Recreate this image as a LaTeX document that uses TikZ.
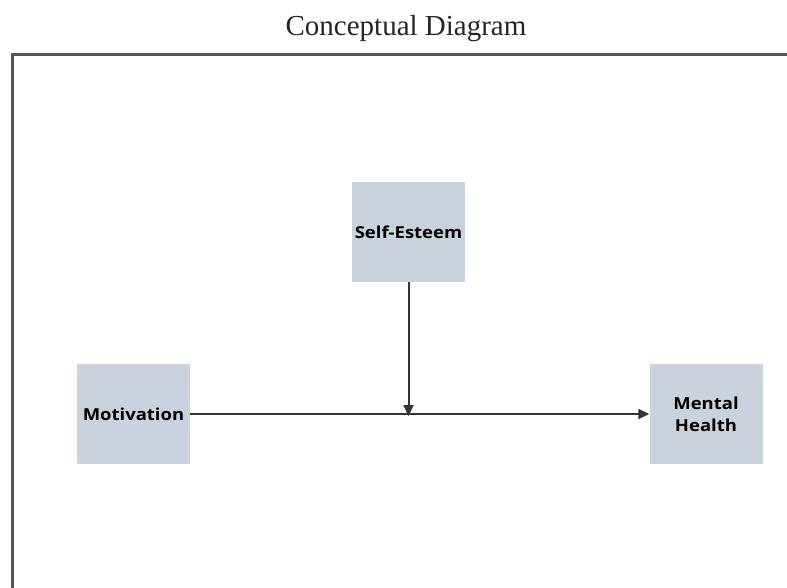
\documentclass[tikz,border=0pt]{standalone}
\usepackage{fontspec}
\setmainfont{Liberation Serif}
\newfontfamily\boxfont[FakeStretch=1.12]{Open Sans}
\usetikzlibrary{arrows.meta}
\definecolor{boxfill}{HTML}{C9D2DD}
\definecolor{framecol}{HTML}{555555}
\definecolor{arrowcol}{HTML}{333333}
\begin{document}
\begin{tikzpicture}[x=1pt,y=-1pt,
  varbox/.style={fill=boxfill,draw=none,minimum width=113pt,minimum height=100pt,inner sep=0pt,
    font=\boxfont\bfseries\fontsize{16.5}{22}\selectfont,align=center,text=black},
  conn/.style={draw=arrowcol,line width=2pt,-{Triangle[length=11pt,width=10pt]}}]
\useasboundingbox[fill=white] (0,0) rectangle (787,587);
\node[font=\fontsize{29}{34}\selectfont,text=black!85] (title) at (406,29) {Conceptual Diagram};
\draw[framecol,line width=2.2pt] (12.5,588) -- (12.5,54.5) -- (788,54.5);
\node[varbox] (se) at (408.5,232) {Self-Esteem};
\node[varbox] (mot) at (133.5,414) {Motivation};
\node[varbox] (mh) at (706,414) {Mental\\Health};
\coordinate (mid) at (408.5,414);
\draw[conn] (mot.east) -- (mh.west);
\draw[conn] (se.south) -- ([yshift=-2pt]mid);
\end{tikzpicture}
\end{document}
